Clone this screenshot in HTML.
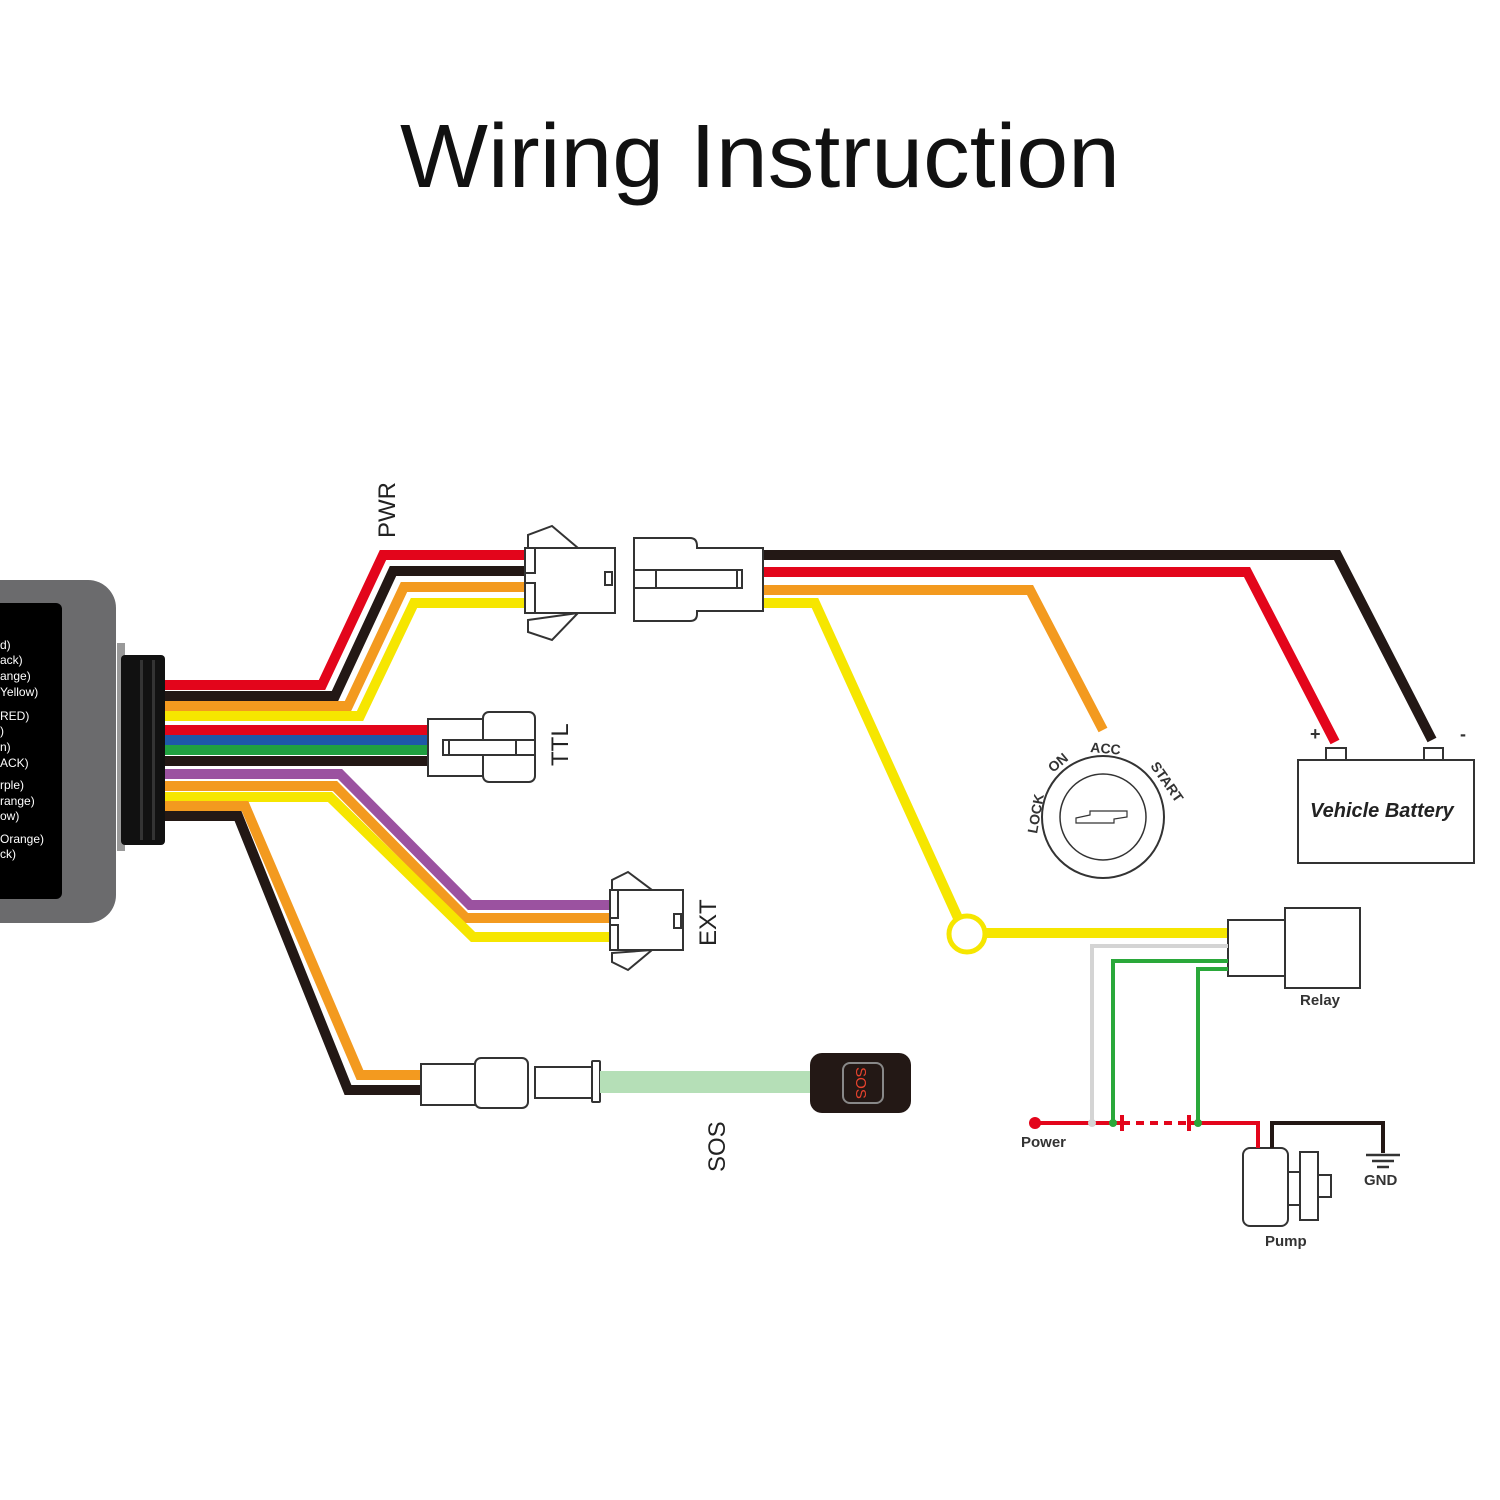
<!DOCTYPE html>
<html><head><meta charset="utf-8"><style>html,body{margin:0;padding:0;background:#fff}svg{display:block}</style></head>
<body>
<svg width="1500" height="1500" viewBox="0 0 1500 1500" xmlns="http://www.w3.org/2000/svg" font-family="Liberation Sans, sans-serif">
<rect width="1500" height="1500" fill="#fff"/>
<text x="760" y="187" font-size="90" text-anchor="middle" textLength="720" lengthAdjust="spacingAndGlyphs" fill="#111">Wiring Instruction</text>

<!-- device -->
<rect x="-30" y="580" width="146" height="343" rx="28" fill="#6b6b6d"/>
<rect x="-20" y="603" width="82" height="296" rx="6" fill="#000"/>
<g fill="#fff" font-size="12">
<text x="0" y="649">d)</text><text x="0" y="664">ack)</text><text x="0" y="680">ange)</text><text x="0" y="696">Yellow)</text>
<text x="0" y="720">RED)</text><text x="0" y="735">)</text><text x="0" y="751">n)</text><text x="0" y="767">ACK)</text>
<text x="0" y="789">rple)</text><text x="0" y="805">range)</text><text x="0" y="820">ow)</text>
<text x="0" y="843">Orange)</text><text x="0" y="858">ck)</text></g>
<rect x="117" y="643" width="8" height="208" fill="#999"/>
<rect x="121" y="655" width="44" height="190" rx="4" fill="#111"/>
<rect x="140" y="660" width="3" height="180" fill="#333"/>
<rect x="152" y="660" width="3" height="180" fill="#333"/>

<g fill="none" stroke-width="10" stroke-linejoin="miter">
<!-- PWR -->
<polyline points="165,685 322,685 383,555 527,555" stroke="#e3051b"/>
<polyline points="165,696 335,696 393,571 527,571" stroke="#231815"/>
<polyline points="165,706 348,706 404,587 527,587" stroke="#f39a1f"/>
<polyline points="165,716 360,716 414,603 527,603" stroke="#f6e600"/>
<!-- TTL -->
<polyline points="165,730 430,730" stroke="#e3051b"/>
<polyline points="165,740 430,740" stroke="#1e58a8"/>
<polyline points="165,750 430,750" stroke="#20a040"/>
<polyline points="165,761 430,761" stroke="#231815"/>
<!-- EXT -->
<polyline points="165,774 340,774 470,905 612,905" stroke="#9b52a0"/>
<polyline points="165,786 335,786 466,918 612,918" stroke="#f39a1f"/>
<polyline points="165,797 330,797 473,937 612,937" stroke="#f6e600"/>
<!-- SOS -->
<polyline points="165,806 245,806 360,1075 422,1075" stroke="#f39a1f"/>
<polyline points="165,816 238,816 348,1090 422,1090" stroke="#231815"/>
<!-- right side -->
<polyline points="762,555 1337,555 1432,740" stroke="#231815"/>
<polyline points="762,572 1247,572 1335,742" stroke="#e3051b"/>
<polyline points="762,590 1030,590 1103,730" stroke="#f39a1f"/>
<polyline points="762,603 815,603 958,918" stroke="#f6e600"/>
<line x1="985" y1="933" x2="1230" y2="933" stroke="#f6e600"/>
</g>
<circle cx="967" cy="934" r="18" fill="#fff" stroke="#f6e600" stroke-width="5"/>

<g fill="#fff" stroke="#333" stroke-width="2">
<!-- PWR male connector -->
<path d="M528,548 L528,535 L552,526 L578,548 Z"/>
<path d="M528,620 L528,632 L552,640 L578,613 Z"/>
<rect x="525" y="548" width="90" height="65"/>
<rect x="525" y="548" width="10" height="25"/><rect x="525" y="583" width="10" height="30"/>
<rect x="605" y="572" width="7" height="13"/>
<!-- PWR female -->
<path d="M634,538 L690,538 Q697,538 697,546 L697,548 L763,548 L763,611 L697,611 L697,614 Q697,621 690,621 L634,621 Z"/>
<rect x="634" y="570" width="108" height="18"/>
<rect x="634" y="570" width="22" height="18"/>
<rect x="737" y="570" width="5" height="18"/>
<!-- TTL -->
<rect x="428" y="719" width="55" height="57"/>
<rect x="483" y="712" width="52" height="70" rx="6"/>
<rect x="443" y="740" width="92" height="15"/>
<rect x="443" y="740" width="6" height="15"/>
<rect x="516" y="740" width="19" height="15"/>
<!-- EXT -->
<path d="M612,890 L612,880 L628,872 L652,890 Z"/>
<path d="M612,953 L612,962 L628,970 L652,950 Z"/>
<rect x="610" y="890" width="73" height="60"/>
<rect x="610" y="890" width="8" height="28"/><rect x="610" y="925" width="8" height="25"/>
<rect x="674" y="914" width="7" height="14"/>
<!-- SOS connector -->
<rect x="421" y="1064" width="55" height="41"/>
<rect x="475" y="1058" width="53" height="50" rx="6"/>
<rect x="535" y="1067" width="57" height="31"/>
<rect x="592" y="1061" width="8" height="41" rx="1"/>
<!-- relay -->
<rect x="1228" y="920" width="57" height="56"/>
<rect x="1285" y="908" width="75" height="80"/>
<!-- battery -->
<rect x="1298" y="760" width="176" height="103"/>
<rect x="1326" y="748" width="20" height="12"/>
<rect x="1424" y="748" width="19" height="12"/>
<!-- pump -->
<rect x="1243" y="1148" width="45" height="78" rx="7"/>
<rect x="1288" y="1172" width="12" height="33"/>
<rect x="1300" y="1152" width="18" height="68"/>
<rect x="1318" y="1175" width="13" height="22"/>
<!-- ignition -->
<circle cx="1103" cy="817" r="61"/>
<circle cx="1103" cy="817" r="43" stroke-width="1.5"/>
<path d="M1076,818 L1090,815 L1090,811 L1127,811 L1127,817 L1114,819 L1114,823 L1076,823 Z" stroke-width="1.2"/>
</g>
<rect x="600" y="1071" width="211" height="22" fill="#b5dfb7"/>
<rect x="810" y="1053" width="101" height="60" rx="12" fill="#231815"/>
<rect x="843" y="1063" width="40" height="40" rx="7" fill="none" stroke="#888" stroke-width="2"/>
<text transform="translate(856,1083) rotate(90)" font-size="15" fill="#e8432e" text-anchor="middle">SOS</text>

<!-- labels -->
<text transform="translate(395,538) rotate(-90)" font-size="24" fill="#222">PWR</text>
<text transform="translate(568,766) rotate(-90)" font-size="24" fill="#222">TTL</text>
<text transform="translate(716,946) rotate(-90)" font-size="24" fill="#222">EXT</text>
<text transform="translate(725,1172) rotate(-90)" font-size="24" fill="#222">SOS</text>

<g font-weight="bold" fill="#333" font-size="15">
<text x="1300" y="1005">Relay</text>
<text x="1021" y="1147">Power</text>
<text x="1265" y="1246">Pump</text>
<text x="1364" y="1185">GND</text>
<text x="1310" y="740" font-size="18">+</text>
<text x="1460" y="740" font-size="18">-</text>
<text x="1310" y="817" font-size="20" font-style="italic" fill="#222">Vehicle Battery</text>
<text transform="translate(1037,834) rotate(-80)" font-size="14">LOCK</text>
<text transform="translate(1053,773) rotate(-40)" font-size="14">ON</text>
<text transform="translate(1090,752) rotate(5)" font-size="14">ACC</text>
<text transform="translate(1150,766) rotate(55)" font-size="14">START</text>
</g>

<!-- relay circuit -->
<g fill="none" stroke-width="4">
<polyline points="1228,946 1092,946 1092,1123" stroke="#d4d4d4"/>
<polyline points="1228,961 1113,961 1113,1123" stroke="#2aa83a"/>
<polyline points="1228,969 1198,969 1198,1123" stroke="#2aa83a"/>
<line x1="1035" y1="1123" x2="1122" y2="1123" stroke="#e3051b"/>
<line x1="1122" y1="1123" x2="1190" y2="1123" stroke="#e3051b" stroke-dasharray="8,6"/>
<polyline points="1190,1123 1258,1123 1258,1148" stroke="#e3051b"/>
<polyline points="1272,1148 1272,1123 1383,1123 1383,1153" stroke="#231815"/>
<line x1="1122" y1="1115" x2="1122" y2="1131" stroke="#e3051b"/>
<line x1="1189" y1="1115" x2="1189" y2="1131" stroke="#e3051b"/>
</g>
<g stroke="#333" stroke-width="2.5"><line x1="1366" y1="1155" x2="1400" y2="1155"/><line x1="1372" y1="1161" x2="1394" y2="1161"/><line x1="1377" y1="1167" x2="1389" y2="1167"/></g>
<circle cx="1035" cy="1123" r="6" fill="#e3051b"/>
<circle cx="1092" cy="1123" r="4" fill="#d4d4d4"/>
<circle cx="1113" cy="1123" r="4" fill="#2aa83a"/>
<circle cx="1198" cy="1123" r="4" fill="#2aa83a"/>
</svg>
</body></html>
